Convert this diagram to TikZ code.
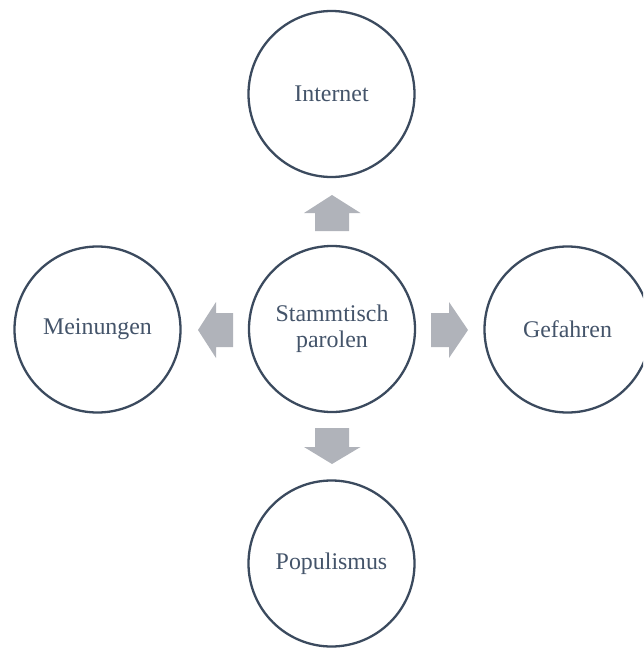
\documentclass[tikz,border=0pt]{standalone}
\usepackage{fontspec}
\setmainfont{Liberation Serif}
\definecolor{ringc}{HTML}{3B4A5E}
\definecolor{textc}{HTML}{44546A}
\definecolor{arrc}{HTML}{B0B3BA}
\begin{document}
\begin{tikzpicture}[x=1pt,y=-1pt,
  ring/.style={circle,draw=ringc,line width=2.3pt,fill=white,minimum size=166pt,inner sep=0pt,
    text=textc,align=center,font=\fontsize{23.9}{26}\selectfont},
  blockarrow/.style={fill=arrc,draw=none}]
\useasboundingbox (0,0) rectangle (643,648);
\clip (0,0) rectangle (643,648);
\node[ring] (c) at (332,329) {Stammtisch\\parolen};
\node[ring] (t) at (331.5,94) {Internet};
\node[ring] (b) at (331.5,563.5) {Populismus};
\node[ring] (l) at (97.5,329.5) {Meinungen};
\node[ring] (r) at (567.5,329.5) {Gefahren};
% up arrow
\fill[blockarrow] (315,231) -- (315,213) -- (304,213) -- (332,195) -- (360.5,213) -- (349,213) -- (349,231) -- cycle;
% down arrow
\fill[blockarrow] (315,428) -- (315,447) -- (304,447) -- (332,464) -- (360.5,447) -- (349,447) -- (349,428) -- cycle;
% left arrow
\fill[blockarrow] (233,313) -- (216,313) -- (216,302) -- (198,330) -- (216,358) -- (216,347) -- (233,347) -- cycle;
% right arrow
\fill[blockarrow] (431,313) -- (449,313) -- (449,302) -- (468,330) -- (449,358) -- (449,347) -- (431,347) -- cycle;
\end{tikzpicture}
\end{document}
